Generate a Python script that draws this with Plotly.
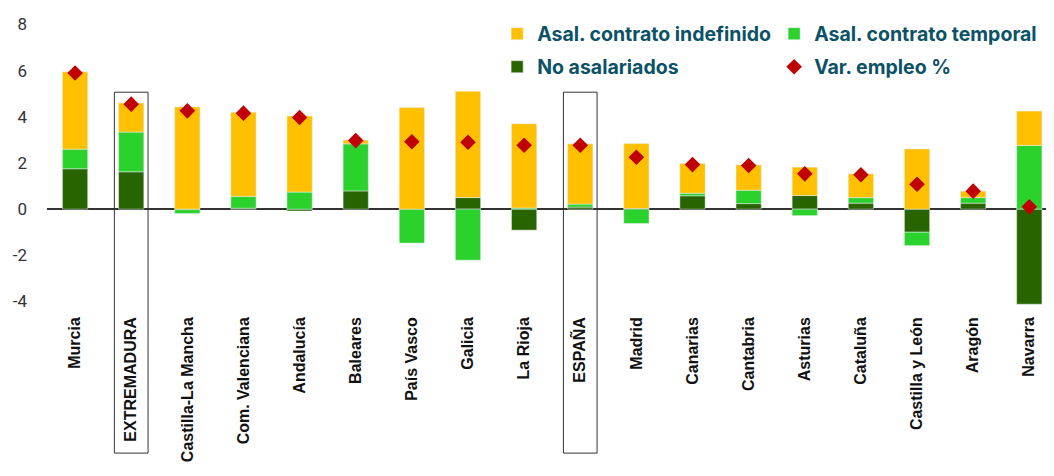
import plotly.graph_objects as go

categories = ["Murcia", "EXTREMADURA", "Castilla-La Mancha", "Com. Valenciana", "Andalucía",
              "Baleares", "País Vasco", "Galicia", "La Rioja", "ESPAÑA", "Madrid", "Canarias",
              "Cantabria", "Asturias", "Cataluña", "Castilla y León", "Aragón", "Navarra"]
no_asalariados = [1.75, 1.62, -0.02, 0.04, -0.08, 0.79, 0.00, 0.50, -0.91, 0.09,
                  0.03, 0.58, 0.24, 0.59, 0.26, -1.00, 0.26, -4.12]
temporal = [0.85, 1.72, -0.17, 0.51, 0.74, 2.04, -1.47, -2.21, 0.05, 0.13,
            -0.62, 0.11, 0.58, -0.28, 0.24, -0.58, 0.24, 2.76]
indefinido = [3.35, 1.26, 4.43, 3.65, 3.30, 0.16, 4.40, 4.61, 3.65, 2.61,
              2.81, 1.29, 1.10, 1.23, 1.03, 2.61, 0.28, 1.49]
var_empleo = [5.90, 4.55, 4.26, 4.16, 3.97, 2.97, 2.92, 2.90, 2.77, 2.77,
              2.25, 1.93, 1.89, 1.53, 1.49, 1.08, 0.78, 0.10]
highlighted = ["EXTREMADURA", "ESPAÑA"]
y_ticks = [-4, -2, 0, 2, 4, 6, 8]
y_tick_labels = ["-4", "-2", "0", "2", "4", "6", "8"]

C_IND = "#FFC000"
C_TEMP = "#2CD22C"
C_NO = "#286400"
C_VAR = "#C00000"
LEG_COLOR = "#0C5266"

fig = go.Figure()
fig.add_trace(go.Bar(x=categories, y=no_asalariados, name="No asalariados",
                     marker_color=C_NO, width=0.45, legend="legend2", legendrank=3))
fig.add_trace(go.Bar(x=categories, y=temporal, name="Asal. contrato temporal",
                     marker_color=C_TEMP, width=0.45, legend="legend", legendrank=2))
fig.add_trace(go.Bar(x=categories, y=indefinido, name="Asal. contrato indefinido",
                     marker_color=C_IND, width=0.45, legend="legend", legendrank=1))
fig.add_trace(go.Scatter(x=categories, y=var_empleo, name="Var. empleo %", mode="markers",
                         marker=dict(symbol="diamond", size=12, color=C_VAR),
                         legend="legend2", legendrank=4))

for cat in highlighted:
    i = categories.index(cat)
    fig.add_shape(type="rect", xref="x", yref="paper",
                  x0=i - 0.3, x1=i + 0.3, y0=-0.467, y1=0.736,
                  line=dict(color="#333333", width=1), fillcolor="rgba(0,0,0,0)", layer="above")

leg_font = dict(family="Inter", size=19.5, color=LEG_COLOR, weight=700)
fig.update_layout(
    width=1046, height=468,
    margin=dict(l=39, r=0, t=5, b=163, autoexpand=False),
    barmode="relative",
    plot_bgcolor="white", paper_bgcolor="white",
    showlegend=True,
    legend=dict(orientation="h", x=0.447, y=0.995, xanchor="left", yanchor="top",
                font=leg_font, entrywidth=232, bgcolor="rgba(0,0,0,0)"),
    legend2=dict(orientation="h", x=0.447, y=0.885, xanchor="left", yanchor="top",
                 font=leg_font, entrywidth=232, bgcolor="rgba(0,0,0,0)"),
    xaxis=dict(range=[-0.5, 17.44], tickangle=-90, showgrid=False, showline=False,
               automargin=False, ticks="",
               tickfont=dict(family="Liberation Sans", size=16, color="#111111", weight="bold")),
    yaxis=dict(range=[-4.5, 8.5], tickvals=y_ticks, ticktext=y_tick_labels,
               showgrid=False, showline=False, automargin=False,
               zeroline=True, zerolinecolor="#333333", zerolinewidth=1.5,
               ticklabelstandoff=19,
               tickfont=dict(family="Roboto", size=17, color="#333333")),
)
fig.write_html("out.html")
